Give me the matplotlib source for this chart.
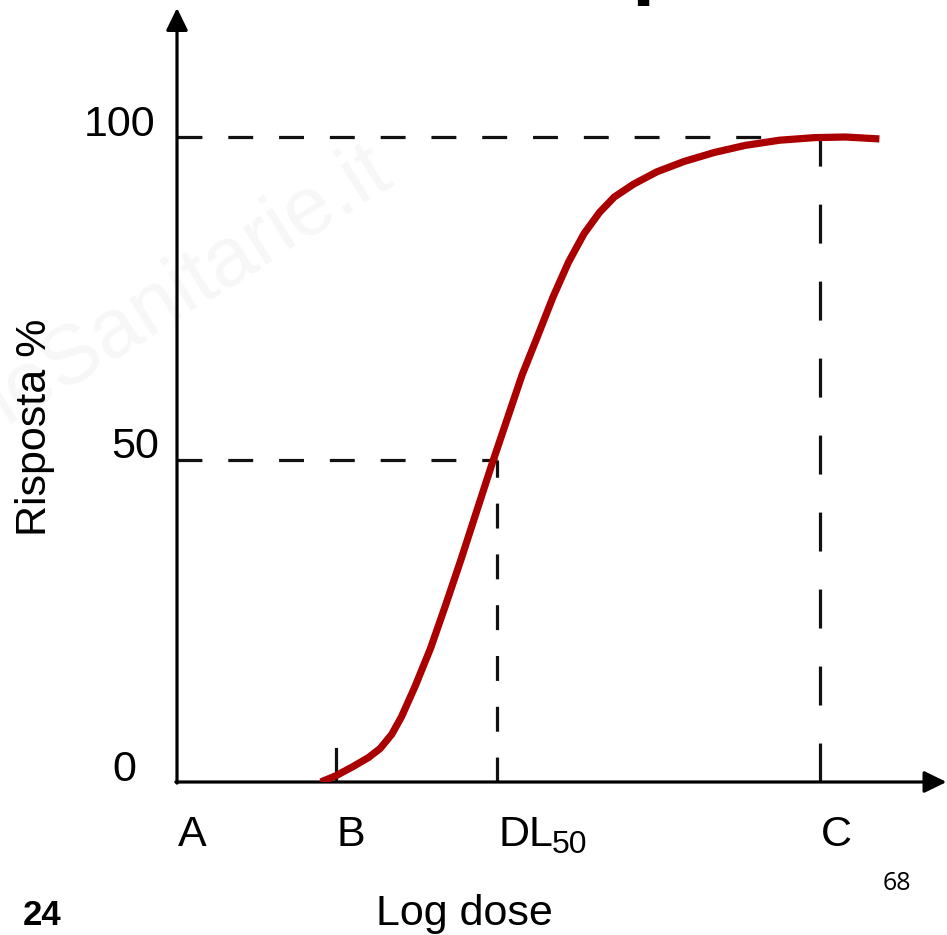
import matplotlib
matplotlib.use("Agg")
import matplotlib.pyplot as plt
from matplotlib import font_manager

# ---------------- data ----------------
dose = [22.3, 24.7, 27.3, 29.7, 31.5, 33.3, 34.8, 36.9, 39.3, 41.6, 44.0, 46.4,
        48.8, 51.2, 53.5, 55.9, 58.3, 60.7, 63.1, 65.5, 67.8, 70.8, 74.4, 78.6,
        83.3, 88.1, 93.4, 98.8, 103.6, 108.9]
response = [0.0, 1.0, 2.4, 3.8, 5.2, 7.4, 10.1, 14.8, 20.7, 27.3, 34.4, 41.8,
            49.2, 56.3, 63.1, 69.1, 75.2, 80.6, 85.0, 88.3, 90.7, 92.7, 94.6, 96.2,
            97.6, 98.7, 99.5, 99.9, 100.0, 99.7]

x_marks = [0.0, 24.7, 49.6, 99.7]          # A, B, DL50, C
x_labels = ["A", "B", "DL", "C"]
dl50_sub = "50"
y_ticks = [0, 50, 100]
y_ticklabels = ["0", "50", "100"]
y_title = "Risposta %"
x_title = "Log dose"
page_number = "68"
slide_number = "24"
watermark = "leSanitarie.it"

# ---------------- layout ----------------
W, H = 947, 935
S = 6.45                 # pixels per data unit
X0, Y0 = 177, 782        # pixel position of origin

plt.rcParams["font.family"] = ["Liberation Sans", "DejaVu Sans"]
names = {f.name for f in font_manager.fontManager.ttflist}
narrow = "Liberation Sans Narrow" if "Liberation Sans Narrow" in names else None

fig = plt.figure(figsize=(W / 100, H / 100), dpi=100)
ax = fig.add_axes([X0 / W, (H - Y0) / H, 120 * S / W, 120 * S / H])
ax.set_xlim(0, 120)
ax.set_ylim(0, 120)
ax.axis("off")

# watermark (very faint)
ax.text(-26.5, 55.5, watermark, rotation=32, rotation_mode="anchor",
        ha="left", va="baseline", fontsize=60, color="#f7f7f7", zorder=0,
        clip_on=False)

# top cut-off title fragment
ax.text(70.4, 123.0, "p", fontsize=60, fontweight="bold", ha="left",
        va="baseline", color="black", clip_on=False)

AX_LW = 2.3
arrow = dict(arrowstyle="-|>,head_length=0.45,head_width=0.22", mutation_scale=30,
             lw=AX_LW, color="black", shrinkA=0, shrinkB=0)
ax.annotate("", xy=(119.3, 0), xytext=(-0.17, 0), arrowprops=arrow,
            annotation_clip=False)
ax.annotate("", xy=(0, 120.0), xytext=(0, -0.17), arrowprops=arrow,
            annotation_clip=False)

DASH_C = "#111111"
short_dash = (0, (7.8, 8.1))
long_dash = (0, (12.2, 11.9))
B, DL50, C = x_marks[1], x_marks[2], x_marks[3]

# horizontal reference lines
ax.plot([0, 91.9], [100, 100], color=DASH_C, lw=AX_LW, ls=short_dash, zorder=2)
ax.plot([0, DL50], [50, 50], color=DASH_C, lw=AX_LW, ls=short_dash, zorder=2)
# vertical reference lines
ax.plot([DL50, DL50], [0, 50], color=DASH_C, lw=AX_LW, ls=short_dash, zorder=2)
ax.plot([C, C], [0, 100], color=DASH_C, lw=AX_LW, ls=long_dash, zorder=2)
# B tick
ax.plot([B, B], [0, 5.1], color=DASH_C, lw=AX_LW, zorder=2)

# curve
ax.plot(dose, response, color="#ab0000", lw=5.2, solid_capstyle="butt",
        solid_joinstyle="round", zorder=3)

FS = 31
# y tick labels
ytick_x = [-6.3, -2.8, -3.3]
for yv, lab, xx in zip(y_ticks, y_ticklabels, ytick_x):
    ax.text(xx, yv + 0.2, lab, ha="right", va="baseline", fontsize=FS,
            clip_on=False)

# x labels
x_label_dx = [0.1, 0.1, 0.3, 0.2]
for xv, lab, dx in zip(x_marks, x_labels, x_label_dx):
    ax.text(xv + dx, -10.0, lab, ha="left", va="baseline", fontsize=FS,
            clip_on=False)
if narrow:
    ax.text(58.5, -11.0, dl50_sub, ha="left", va="baseline", fontsize=26,
            family=narrow, clip_on=False)
else:
    ax.text(58.1, -11.0, dl50_sub, ha="left", va="baseline", fontsize=23,
            clip_on=False)

# axis titles
ax.text(44.5, -22.2, x_title, ha="center", va="baseline", fontsize=FS,
        clip_on=False)
ax.text(-22.0, 55.0, y_title, ha="center", va="center", rotation=90,
        fontsize=FS, clip_on=False)

# page numbers
ax.text(111.6, -16.7, page_number, ha="center", va="baseline", fontsize=18,
        family=["Open Sans", "DejaVu Sans"], clip_on=False)
ax.text(-20.9, -22.2, slide_number, ha="center", va="baseline", fontsize=25,
        fontweight="bold", clip_on=False)

fig.savefig("out.png", dpi=100)
